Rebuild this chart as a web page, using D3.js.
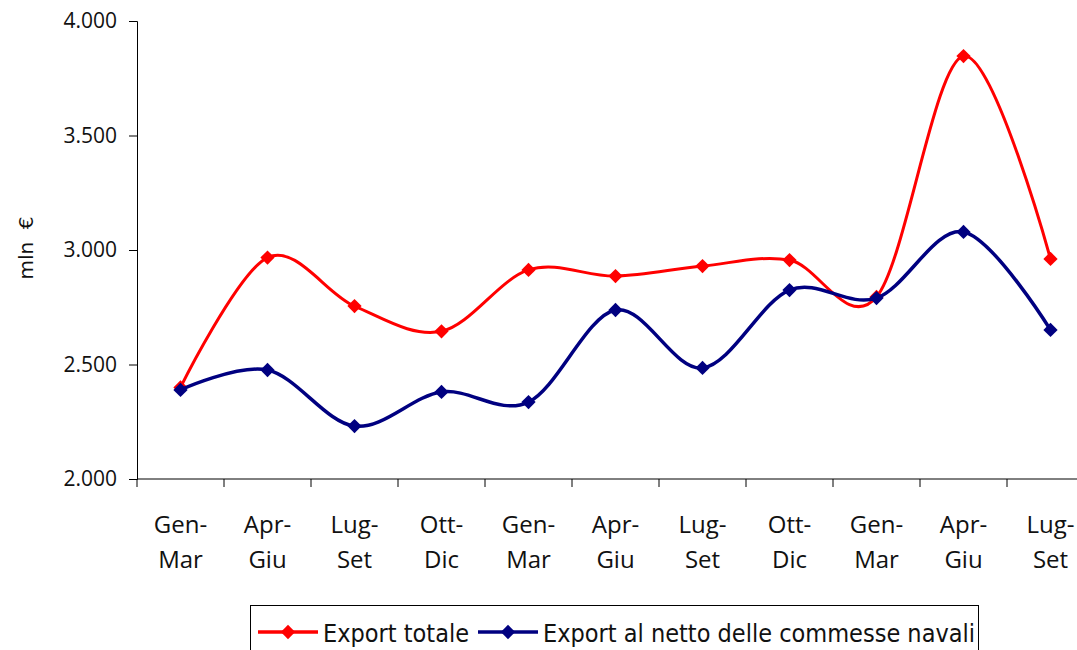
<!DOCTYPE html>
<html><head><meta charset="utf-8">
<script src="https://cdn.jsdelivr.net/npm/d3@7"></script>
<style>
body{margin:0;background:#fff;}
svg{display:block;font-family:"Open Sans",Lato,sans-serif;}
</style></head><body>
<svg id="c" width="1077" height="650"></svg>
<script>
const categories = ["Gen-Mar","Apr-Giu","Lug-Set","Ott-Dic","Gen-Mar","Apr-Giu","Lug-Set","Ott-Dic","Gen-Mar","Apr-Giu","Lug-Set"];
const exportTotale = [2400, 2967, 2755, 2645, 2913, 2886, 2930, 2956, 2795, 3847, 2961];
const exportNetto = [2389, 2476, 2231, 2380, 2336, 2738, 2485, 2825, 2790, 3079, 2651];
const yTicks = [2000, 2500, 3000, 3500, 4000];
const seriesNames = ["Export totale", "Export al netto delle commesse navali"];

const svg = d3.select("#c");
const mLeft = 137, mRight = 1094, mTop = 21, mBottom = 479;
const idx = categories.map((d,i)=>i);
const x = d3.scaleBand().domain(idx).range([mLeft, mRight]).padding(0);
const y = d3.scaleLinear().domain([2000, 4000]).range([mBottom, mTop]);
const fmt = v => d3.format(",")(v).replace(/,/g, ".");

// y axis
const ya = svg.append("g").attr("transform", `translate(${mLeft},0)`)
  .call(d3.axisLeft(y).tickValues(yTicks).tickFormat(fmt).tickSize(8).tickPadding(12));
ya.selectAll("text").style("font-size", "21px").style("font-family", "'Open Sans'").attr("fill", "#111");
ya.select(".domain").attr("stroke", "#000");
ya.selectAll("line").attr("stroke", "#000");

// x axis
const xa = svg.append("g").attr("transform", `translate(0,${mBottom})`);
xa.append("line").attr("x1", mLeft).attr("x2", mRight).attr("stroke", "#000");
xa.selectAll("line.t").data(d3.range(categories.length + 1)).join("line")
  .attr("class","t")
  .attr("x1", i => mLeft + i * x.step()).attr("x2", i => mLeft + i * x.step())
  .attr("y1", 0).attr("y2", 8).attr("stroke", "#000");
xa.selectAll("text").data(idx).join("text")
  .attr("x", i => x(i) + x.bandwidth()/2)
  .attr("text-anchor", "middle")
  .style("font-size", "24px").attr("fill", "#111")
  .each(function(i){
    const parts = categories[i].split("-");
    const t = d3.select(this);
    t.append("tspan").attr("x", x(i) + x.bandwidth()/2).attr("y", 54).text(parts[0] + "-");
    t.append("tspan").attr("x", x(i) + x.bandwidth()/2).attr("y", 89).text(parts[1]);
  });

// y label
svg.append("text").attr("transform", `translate(33,248) rotate(-90)`)
  .attr("text-anchor", "middle").attr("fill", "#111")
  .style("font-size", "20px").style("font-family", "'DejaVu Sans'")
  .style("white-space","pre")
  .text("mln  €");

const line = d3.line().x((d,i) => x(i) + x.bandwidth()/2).y(d => y(d)).curve(d3.curveCardinal.tension(0));
const diamond = d3.symbol().type(d3.symbolDiamond2).size(130);

function drawSeries(data, color, w){
  svg.append("path").datum(data).attr("d", line).attr("fill","none").attr("stroke", color).attr("stroke-width", w).attr("stroke-linejoin","round");
  svg.append("g").selectAll("path").data(data).join("path")
    .attr("d", diamond)
    .attr("transform", (d,i) => `translate(${x(i) + x.bandwidth()/2},${y(d)})`)
    .attr("fill", color);
}
drawSeries(exportTotale, "#ff0000", 3);
drawSeries(exportNetto, "#000080", 3.5);

// legend
const lg = svg.append("g");
lg.append("rect").attr("x", 250.5).attr("y", 605.5).attr("width", 728).attr("height", 60)
  .attr("fill", "#fff").attr("stroke", "#000").attr("stroke-width", 1);
const items = [{n: seriesNames[0], c: "#ff0000", x: 258}, {n: seriesNames[1], c: "#000080", x: 478}];
items.forEach(it => {
  lg.append("line").attr("x1", it.x).attr("x2", it.x + 60).attr("y1", 632).attr("y2", 632).attr("stroke", it.c).attr("stroke-width", 3.5);
  lg.append("path").attr("d", diamond).attr("transform", `translate(${it.x + 30},632)`).attr("fill", it.c);
  lg.append("text").attr("x", it.x + 65).attr("y", 642).attr("font-size", 25).attr("fill", "#111")
    .attr("font-family", "DejaVu Sans Condensed, Open Sans").attr("font-stretch","condensed").text(it.n);
});
</script></body></html>
